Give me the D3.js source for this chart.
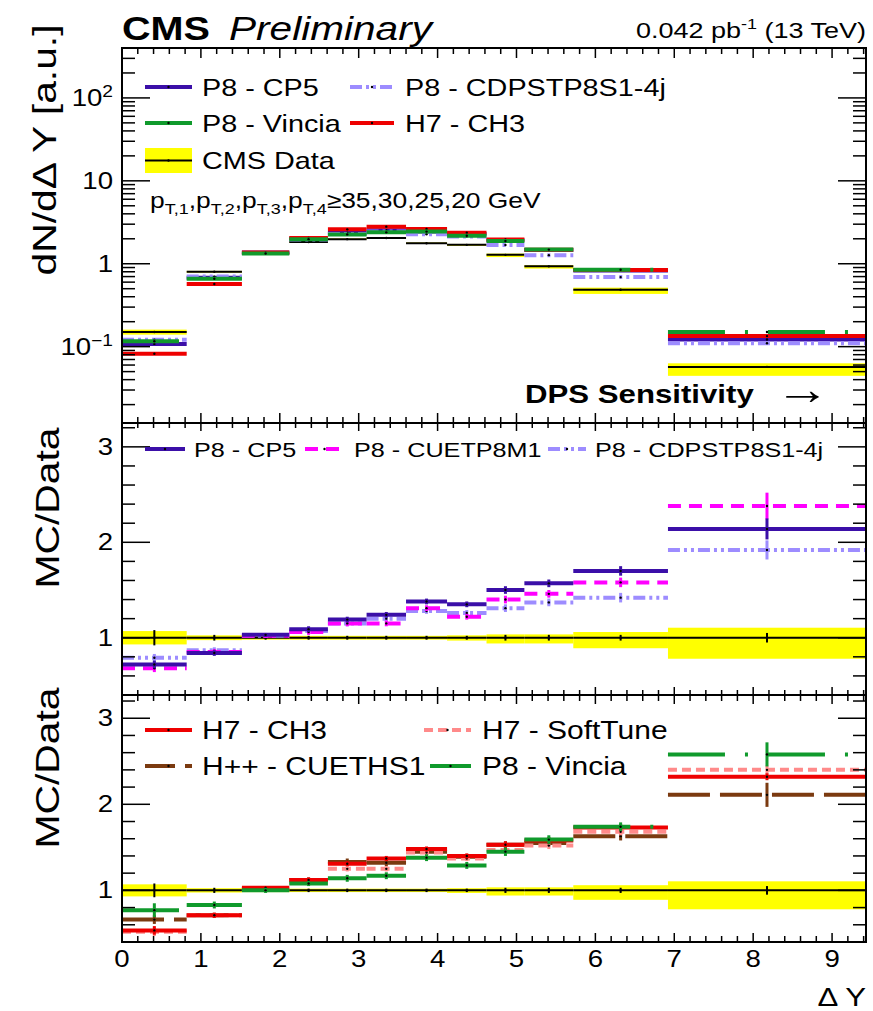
<!DOCTYPE html>
<html>
<head>
<meta charset="utf-8">
<script src="https://cdn.jsdelivr.net/npm/d3@7"></script>
<style>
  body { margin: 0; background: #fff; }
  text { font-family: 'Liberation Sans', Arial, sans-serif; fill: #000; }
</style>
</head>
<body>
<svg id="chart" width="873" height="1011"></svg>
<script>
// Delta Y bin edges
const binEdges = [0, 0.82, 1.52, 2.12, 2.61, 3.1, 3.6, 4.12, 4.62, 5.1, 5.72, 6.92, 9.43]

// top panel: dN/dDeltaY [a.u.]
const dataTop    = [0.150, 0.80, 1.33, 1.83, 1.98, 2.04, 1.77, 1.69, 1.28, 0.93, 0.486, 0.057]
const cp5Top     = [0.108, 0.68, 1.37, 2.00, 2.36, 2.53, 2.44, 2.28, 1.92, 1.46, 0.83, 0.122]
const cdpsTop    = [0.121, 0.70, 1.36, 1.96, 2.28, 2.45, 2.27, 2.13, 1.68, 1.27, 0.69, 0.110]
const vinciaTop  = [0.116, 0.66, 1.33, 1.98, 2.26, 2.39, 2.44, 2.18, 1.88, 1.48, 0.845, 0.150]
const ch3Top     = [0.082, 0.57, 1.37, 2.05, 2.60, 2.80, 2.62, 2.37, 1.96, 1.47, 0.84, 0.134]

// data uncertainty (relative), yellow band and stat bars
const dataBandUp = [0.07, 0.025, 0.02, 0.02, 0.02, 0.02, 0.02, 0.025, 0.035, 0.035, 0.06, 0.105]
const dataBandDn = [0.07, 0.025, 0.02, 0.02, 0.02, 0.02, 0.02, 0.03, 0.06, 0.06, 0.11, 0.22]
const dataStat   = [0.08, 0.03, 0.02, 0.02, 0.02, 0.02, 0.02, 0.02, 0.03, 0.03, 0.03, 0.05]

// middle panel: MC/Data, Pythia8 tunes
const cp5Ratio   = [0.72, 0.84, 1.03, 1.09, 1.19, 1.24, 1.38, 1.35, 1.50, 1.57, 1.70, 2.14]
const cp5Err     = [0.04, 0.03, 0.02, 0.03, 0.03, 0.03, 0.03, 0.03, 0.04, 0.04, 0.05, 0.11]
const cuetRatio  = [0.68, 0.85, 1.02, 1.06, 1.15, 1.15, 1.31, 1.22, 1.40, 1.46, 1.58, 2.38]
const cuetErr    = [0.04, 0.03, 0.02, 0.03, 0.03, 0.03, 0.03, 0.03, 0.04, 0.04, 0.05, 0.14]
const cdpsRatio  = [0.79, 0.87, 1.02, 1.07, 1.15, 1.20, 1.28, 1.26, 1.31, 1.37, 1.42, 1.92]
const cdpsErr    = [0.04, 0.03, 0.02, 0.03, 0.03, 0.03, 0.03, 0.03, 0.04, 0.04, 0.05, 0.10]

// bottom panel: MC/Data, Herwig and Vincia
const ch3Ratio    = [0.535, 0.71, 1.03, 1.12, 1.31, 1.37, 1.48, 1.40, 1.53, 1.58, 1.73, 2.32]
const ch3Err      = [0.05, 0.03, 0.02, 0.03, 0.03, 0.03, 0.03, 0.03, 0.04, 0.04, 0.04, 0.04]
const softRatio   = [0.52, 0.71, 1.02, 1.10, 1.25, 1.25, 1.44, 1.37, 1.47, 1.52, 1.68, 2.40]
const softErr     = [0.05, 0.03, 0.02, 0.03, 0.03, 0.03, 0.03, 0.03, 0.04, 0.04, 0.04, 0.05]
const cuethsRatio = [0.66, 0.71, 1.02, 1.12, 1.33, 1.32, 1.45, 1.39, 1.53, 1.55, 1.63, 2.11]
const cuethsErr   = [0.05, 0.03, 0.02, 0.03, 0.04, 0.04, 0.03, 0.03, 0.04, 0.04, 0.05, 0.14]
const vinciaRatio = [0.77, 0.83, 1.00, 1.08, 1.14, 1.17, 1.38, 1.29, 1.45, 1.59, 1.74, 2.58]
const vinciaErr   = [0.08, 0.04, 0.03, 0.03, 0.04, 0.04, 0.04, 0.04, 0.05, 0.05, 0.05, 0.14]

const xTickVals = [0, 1, 2, 3, 4, 5, 6, 7, 8, 9]

// styles
const sCP5    = { color: '#3b0fa8', width: 4 }
const sCDPS   = { color: '#9d8cff', width: 4, dash: '12,4,3,4,3,4' }
const sCUET   = { color: '#ff00ff', width: 4, dash: '13,8' }
const sVincia = { color: '#109a2c', width: 4, dash: '57,20,3,20', legendDash: null }
const sCH3    = { color: '#ee0000', width: 4 }
const sSoft   = { color: '#ff8a8a', width: 4, dash: '9,5' }
const sCUETHS = { color: '#7b3a10', width: 4, dash: '42,10', legendDash: '30,10' }

const SX = 1.2 // horizontal stretch of the original rendering
const svg = d3.select('#chart')
const xL = 122, xR = 866
const x = d3.scaleLinear().domain([0, 9.43]).range([xL, xR])
const yTop = d3.scaleLog().domain([0.012, 400]).range([423, 48])
const yMid = d3.scaleLinear().domain([0.4, 3.25]).range([695, 423])
const yBot = d3.scaleLinear().domain([0.4, 3.27]).range([942, 695])

const bins = d3.range(binEdges.length - 1)
const centre = i => x((binEdges[i] + binEdges[i + 1]) / 2)

function txt(g, px, py, size, opts = {}) {
  const tr = opts.rotate
    ? `translate(${px},${py}) rotate(-90) scale(1.2,1)`
    : `translate(${px},${py}) scale(${opts.sx || SX},1)`
  return g.append('text')
    .attr('transform', tr)
    .attr('font-size', size)
    .attr('text-anchor', opts.anchor || 'start')
    .attr('font-weight', opts.bold ? 'bold' : null)
    .attr('font-style', opts.italic ? 'italic' : null)
}

function clipFor(id, y) {
  svg.append('clipPath').attr('id', id).append('rect')
    .attr('x', xL).attr('y', y.range()[1]).attr('width', xR - xL).attr('height', y.range()[0] - y.range()[1])
  return svg.append('g').attr('clip-path', `url(#${id})`)
}

function drawBand(g, y, lo, hi) {
  g.selectAll(null).data(bins).join('rect')
    .attr('x', i => x(binEdges[i])).attr('width', i => x(binEdges[i + 1]) - x(binEdges[i]))
    .attr('y', i => y(hi[i])).attr('height', i => y(lo[i]) - y(hi[i]))
    .attr('fill', '#ffff00')
}

function drawSeries(g, y, vals, errs, s) {
  g.selectAll(null).data(bins).join('line')
    .attr('x1', i => x(binEdges[i])).attr('x2', i => x(binEdges[i + 1]))
    .attr('y1', i => y(vals[i])).attr('y2', i => y(vals[i]))
    .attr('stroke', s.color).attr('stroke-width', s.width)
    .attr('stroke-dasharray', s.dash || null)
  if (errs) {
    g.selectAll(null).data(bins).join('line')
      .attr('x1', centre).attr('x2', centre)
      .attr('y1', i => y(vals[i] - errs[i])).attr('y2', i => y(vals[i] + errs[i]))
      .attr('stroke', s.color).attr('stroke-width', s.errWidth || 3)
  }
  g.selectAll(null).data(bins).join('circle')
    .attr('cx', centre).attr('cy', i => y(vals[i])).attr('r', 1.2).attr('fill', '#000')
}

function frame(y, isLog, xMaj, xMin) {
  const g = svg.append('g').attr('stroke', '#000').attr('fill', 'none')
  const [yb, yt] = y.range()
  g.append('rect').attr('x', xL).attr('y', yt).attr('width', xR - xL).attr('height', yb - yt)
    .attr('stroke-width', 2)
  const minorX = d3.range(0, 9.43, 0.2).filter(v => Math.abs(v - Math.round(v)) > 1e-6)
  const xt = [...xTickVals.map(v => [v, xMaj]), ...minorX.map(v => [v, xMin])]
  xt.forEach(([v, len]) => {
    g.append('line').attr('x1', x(v)).attr('x2', x(v)).attr('y1', yb).attr('y2', yb - len).attr('stroke-width', 1.5)
    g.append('line').attr('x1', x(v)).attr('x2', x(v)).attr('y1', yt).attr('y2', yt + len).attr('stroke-width', 1.5)
  })
  const yt2 = []
  const [d0, d1] = y.domain()
  if (isLog) {
    for (let k = -2; k <= 2; k++) {
      for (let m = 1; m <= 9; m++) {
        const v = m * Math.pow(10, k)
        if (v >= d0 && v <= d1) yt2.push([v, m === 1 ? 28 : 13])
      }
    }
  } else {
    d3.range(0.4, d1 + 1e-6, 0.2).forEach(v => {
      const major = Math.abs(v - Math.round(v)) < 1e-6
      yt2.push([v, major ? 28 : 13])
    })
  }
  yt2.forEach(([v, len]) => {
    g.append('line').attr('x1', xL).attr('x2', xL + len).attr('y1', y(v)).attr('y2', y(v)).attr('stroke-width', 1.5)
    g.append('line').attr('x1', xR).attr('x2', xR - len).attr('y1', y(v)).attr('y2', y(v)).attr('stroke-width', 1.5)
  })
}

function legendLine(g, x1, x2, yy, s) {
  const dash = s.legendDash !== undefined ? s.legendDash : (s.dash || null)
  g.append('line').attr('x1', x1).attr('x2', x2).attr('y1', yy).attr('y2', yy)
    .attr('stroke', s.color).attr('stroke-width', s.width).attr('stroke-dasharray', dash)
  g.append('circle').attr('cx', (x1 + x2) / 2).attr('cy', yy).attr('r', 1.2).attr('fill', '#000')
}

// ---------- top panel ----------
const gTop = clipFor('clipTop', yTop)
drawBand(gTop, yTop, dataTop.map((d, i) => d * (1 - dataBandDn[i])), dataTop.map((d, i) => d * (1 + dataBandUp[i])))
drawSeries(gTop, yTop, dataTop, null, { color: '#000', width: 2 })
drawSeries(gTop, yTop, cp5Top, null, sCP5)
drawSeries(gTop, yTop, cdpsTop, null, sCDPS)
drawSeries(gTop, yTop, ch3Top, null, sCH3)
drawSeries(gTop, yTop, vinciaTop, null, sVincia)
frame(yTop, true, 10, 6)

// ---------- middle panel ----------
const ones = bins.map(() => 1)
const gMid = clipFor('clipMid', yMid)
drawBand(gMid, yMid, dataBandDn.map(d => 1 - d), dataBandUp.map(d => 1 + d))
drawSeries(gMid, yMid, ones, dataStat, { color: '#000', width: 2, errWidth: 2 })
drawSeries(gMid, yMid, cdpsRatio, cdpsErr, sCDPS)
drawSeries(gMid, yMid, cuetRatio, cuetErr, sCUET)
drawSeries(gMid, yMid, cp5Ratio, cp5Err, sCP5)
frame(yMid, false, 8, 5)

// ---------- bottom panel ----------
const gBot = clipFor('clipBot', yBot)
drawBand(gBot, yBot, dataBandDn.map(d => 1 - d), dataBandUp.map(d => 1 + d))
drawSeries(gBot, yBot, ones, dataStat, { color: '#000', width: 2, errWidth: 2 })
drawSeries(gBot, yBot, cuethsRatio, cuethsErr, sCUETHS)
drawSeries(gBot, yBot, softRatio, softErr, sSoft)
drawSeries(gBot, yBot, ch3Ratio, ch3Err, sCH3)
drawSeries(gBot, yBot, vinciaRatio, vinciaErr, sVincia)
frame(yBot, false, 9, 6)

// ---------- labels ----------
const gl = svg.append('g')
txt(gl, 122, 40, 33, { bold: true }).text('CMS')
txt(gl, 229, 40, 33, { italic: true, sx: 1.23 }).text('Preliminary')
const lumi = txt(gl, 866, 38, 22.5, { anchor: 'end' })
lumi.append('tspan').text('0.042 pb')
lumi.append('tspan').attr('dy', -9).attr('font-size', 15).text('-1')
lumi.append('tspan').attr('dy', 9).text(' (13 TeV)')

// y titles
txt(gl, 56, 150, 34, { rotate: true, anchor: 'middle' }).text('dN/d\u0394 Y [a.u.]')
txt(gl, 59, 508, 34, { rotate: true, anchor: 'middle' }).text('MC/Data')
txt(gl, 59, 768, 34, { rotate: true, anchor: 'middle' }).text('MC/Data')

// top y tick labels
const logLabels = [[100, '10', '2'], [10, '10', null], [1, '1', null], [0.1, '10', '\u22121']]
logLabels.forEach(([v, base, sup]) => {
  const t = txt(gl, 113, yTop(v) + 8, 23, { anchor: 'end' })
  t.append('tspan').text(base)
  if (sup) t.append('tspan').attr('dy', -9).attr('font-size', 16).text(sup)
})

// ratio y tick labels
;[[yMid, [1, 2, 3]], [yBot, [1, 2, 3]]].forEach(([y, vals]) => {
  vals.forEach(v => txt(gl, 113, y(v) + 8, 23, { anchor: 'end' }).text(v))
})

// x tick labels
xTickVals.forEach(v => txt(gl, x(v), 967, 23, { anchor: 'middle' }).text(v))
txt(gl, 866, 1006, 26, { anchor: 'end' }).text('\u0394 Y')

// kinematic text
const kin = txt(gl, 150, 208, 22)
;['1', '2', '3', '4'].forEach((n, i) => {
  kin.append('tspan').attr('dy', i === 0 ? 0 : -6).text(i === 0 ? 'p' : ',p')
  kin.append('tspan').attr('dy', 6).attr('font-size', 15).text('T,' + n)
})
kin.append('tspan').attr('dy', -6).text('\u226535,30,25,20 GeV')

txt(gl, 525, 403, 26, { bold: true }).text('DPS Sensitivity')
txt(gl, 775, 404, 44, { sx: 1.25 }).attr('font-family', 'DejaVu Sans').text('\u2192')

// ---------- legends ----------
const lg = svg.append('g')
// top
legendLine(lg, 145, 192, 87, sCP5)
txt(lg, 202, 96, 24).text('P8 - CP5')
legendLine(lg, 350, 394, 87, sCDPS)
txt(lg, 405, 96, 24).text('P8 - CDPSTP8S1-4j')
legendLine(lg, 145, 192, 123, sVincia)
txt(lg, 202, 132, 24).text('P8 - Vincia')
legendLine(lg, 350, 394, 123, sCH3)
txt(lg, 405, 132, 24).text('H7 - CH3')
lg.append('rect').attr('x', 145).attr('y', 148).attr('width', 47).attr('height', 25).attr('fill', '#ffff00')
legendLine(lg, 145, 192, 160.5, { color: '#000', width: 2 })
txt(lg, 202, 169, 24).text('CMS Data')

// middle
legendLine(lg, 145, 185, 449, sCP5)
txt(lg, 194, 457, 21).text('P8 - CP5')
legendLine(lg, 305, 344, 449, sCUET)
txt(lg, 354, 457, 21).text('P8 - CUETP8M1')
legendLine(lg, 548, 586, 449, sCDPS)
txt(lg, 595, 457, 21).text('P8 - CDPSTP8S1-4j')

// bottom
legendLine(lg, 145, 192, 730, sCH3)
txt(lg, 202, 739, 25).text('H7 - CH3')
legendLine(lg, 424, 471, 730, sSoft)
txt(lg, 482, 739, 25).text('H7 - SoftTune')
legendLine(lg, 145, 192, 766, sCUETHS)
txt(lg, 202, 775, 25).text('H++ - CUETHS1')
legendLine(lg, 430, 471, 766, sVincia)
txt(lg, 482, 775, 25).text('P8 - Vincia')
</script>
</body>
</html>
